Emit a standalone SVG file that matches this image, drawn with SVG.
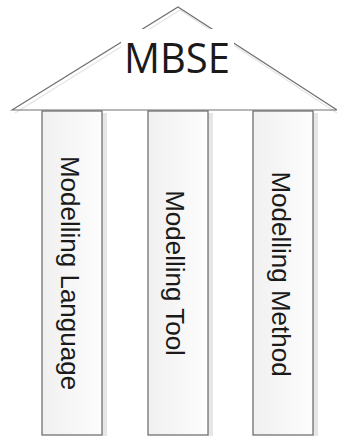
<svg xmlns="http://www.w3.org/2000/svg" width="337" height="436" viewBox="0 0 337 436">
  <defs>
    <linearGradient id="pillarFill" x1="0" y1="0" x2="1" y2="0">
      <stop offset="0" stop-color="#f0f0f0"/>
      <stop offset="1" stop-color="#fdfdfd"/>
    </linearGradient>
    <style>
      .roof { fill: none; stroke: #707070; stroke-width: 1.2; }
      .roof-shadow { fill: none; stroke: #e4e4e4; stroke-width: 1.2; }
      .pillar { fill: url(#pillarFill); stroke: #666666; stroke-width: 1.2; }
      .pillar-shadow { fill: #e6e6e6; }
      .label { font-family: "Liberation Sans", Arial, sans-serif; font-size: 26px; fill: #1a1a1a; text-anchor: middle; }
      .title { font-family: "Open Sans", "Liberation Sans", sans-serif; font-size: 42px; fill: #1a1a1a; text-anchor: middle; }
    </style>
  </defs>
  <rect width="337" height="436" fill="#ffffff"/>

  <!-- roof -->
  <g id="roof">
    <polyline class="roof-shadow" points="15,113 180,10 337,113"/>
    <polygon class="roof" points="12,110 178,7 337,110"/>
    <rect x="121" y="29" width="113" height="60" fill="#ffffff"/>
    <text class="title" x="177" y="73" textLength="106" lengthAdjust="spacingAndGlyphs">MBSE</text>
  </g>

  <!-- pillars -->
  <g id="pillar-language">
    <rect class="pillar-shadow" x="102" y="113" width="5" height="323"/>
    <rect class="pillar" x="42" y="111" width="60" height="324"/>
    <text class="label" transform="translate(61,273) rotate(90)">Modelling Language</text>
  </g>
  <g id="pillar-tool">
    <rect class="pillar-shadow" x="208" y="113" width="5" height="323"/>
    <rect class="pillar" x="148" y="111" width="60" height="324"/>
    <text class="label" transform="translate(166,273) rotate(90)">Modelling Tool</text>
  </g>
  <g id="pillar-method">
    <rect class="pillar-shadow" x="313" y="113" width="5" height="323"/>
    <rect class="pillar" x="253" y="111" width="60" height="324"/>
    <text class="label" transform="translate(272,274) rotate(90)">Modelling Method</text>
  </g>
</svg>
